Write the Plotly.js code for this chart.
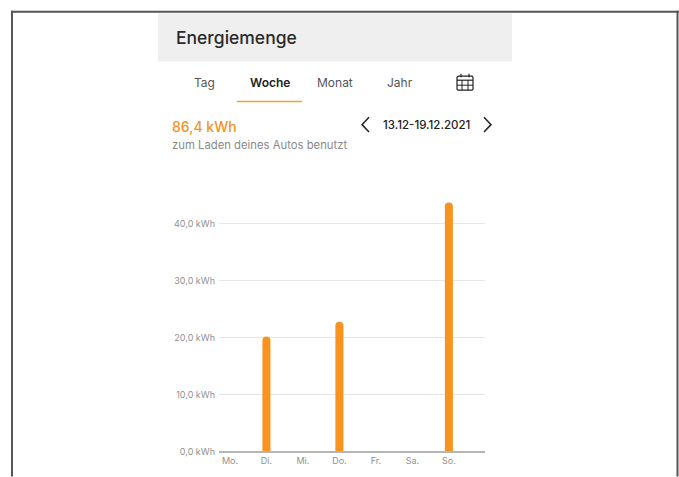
<!DOCTYPE html>
<html><head><meta charset="utf-8">
<script src="https://cdn.plot.ly/plotly-3.0.1.min.js"></script>
<style>html,body{margin:0;padding:0;background:#fff;overflow:hidden}#c{width:679px;height:477px}</style>
</head><body><div id="c"></div>
<script>
const days = ['Mo.','Di.','Mi.','Do.','Fr.','Sa.','So.'];
const energy = [0,20.1,0,22.7,0,0,43.6];
const yTicks = [0,10,20,30,40];
const yLabels = ['0,0 kWh','10,0 kWh','20,0 kWh','30,0 kWh','40,0 kWh'];
const tabs = ['Tag','Woche','Monat','Jahr'];
const W=679,H=477,L=219,R=485,T=190,B=451.5;
const px=x=>(x-L)/(R-L), py=y=>(B-y)/(B-T);
const font='Inter, sans-serif', ORANGE='#f7931e';
const rect=(x0,y0,x1,y1,fill,layer)=>({type:'rect',xref:'paper',yref:'paper',x0:px(x0),x1:px(x1),y0:py(y0),y1:py(y1),fillcolor:fill,line:{width:0},layer:layer||'below'});
const poly=(pts,color,w)=>({type:'path',xref:'paper',yref:'paper',path:'M'+pts.map(p=>px(p[0])+','+py(p[1])).join(' L'),line:{color:color,width:w},fillcolor:'rgba(0,0,0,0)'});
const label=(text,x,y,size,color,anchor,weight)=>({text,xref:'paper',yref:'paper',x:px(x),y:py(y),showarrow:false,xanchor:anchor||'center',yanchor:'middle',xshift:anchor=='left'?-1.5:0,font:{family:font,size,color,weight:weight||400}});
const tabX=[204,269.5,335,400];
const annotations=[
 label('Energiemenge',175.5,37,17.5,'#2a2a2a','left',500),
 ...tabs.map((t,i)=>label(t,tabX[i],82.5,12,i==1?'#222':'#555',null,i==1?600:400)),
 label('86,4 kWh',171.5,126,14,ORANGE,'left',500),
 label('13.12-19.12.2021',426,124.5,11.5,'#222',null,500),
 label('zum Laden deines Autos benutzt',171.5,144.5,11.3,'#8a8a8a','left')
];
const shapes=[
 rect(158,13,512,61,'#efefef'),
 rect(237,100.5,302,102,'#f5a030'),
 poly([[369,117],[362,124.5],[369,132]],'#222',1.5),
 poly([[484,117],[491,124.5],[484,132]],'#222',1.5),
 poly([[458,76],[472,76],[473,77],[473,89],[472,90],[458,90],[457,89],[457,77],[458,76]],'#222',1.2),
 poly([[457,80],[473,80]],'#222',1.2),
 poly([[457,85],[473,85]],'#222',1),
 poly([[462,80],[462,90]],'#222',1),
 poly([[468,80],[468,90]],'#222',1),
 poly([[461,73.5],[461,77]],'#222',1.2),
 poly([[469,73.5],[469,77]],'#222',1.2),
 rect(11,10.5,679,12.5,'#555','above'),
 rect(11,10.5,13,477,'#555','above'),
 rect(676.5,10.5,678.5,477,'#555','above')
];
Plotly.newPlot('c',[{type:'bar',x:days,y:energy,width:0.22,marker:{color:ORANGE,line:{width:0}},hoverinfo:'skip'}],{
 width:W,height:H,paper_bgcolor:'#fff',plot_bgcolor:'#fff',showlegend:false,
 margin:{l:L,r:W-R,t:T,b:H-B,pad:0},barcornerradius:4,
 font:{family:font},
 xaxis:{type:'category',categoryorder:'array',categoryarray:days,range:[-0.3,6.99],showgrid:false,zeroline:false,showline:true,linecolor:'#b5b5b5',linewidth:2,ticks:'',tickfont:{family:font,size:9,color:'#909090'},ticklabelstandoff:0,fixedrange:true},
 yaxis:{range:[0,(B-T)/5.71],tickmode:'array',tickvals:yTicks,ticktext:yLabels,showgrid:true,gridcolor:'#e6e6e6',gridwidth:1,zeroline:false,showline:false,ticks:'',tickfont:{family:font,size:9,color:'#909090'},ticklabelstandoff:3,ticklabelshift:1,fixedrange:true},
 annotations,shapes
},{staticPlot:true,displayModeBar:false});
</script></body></html>
